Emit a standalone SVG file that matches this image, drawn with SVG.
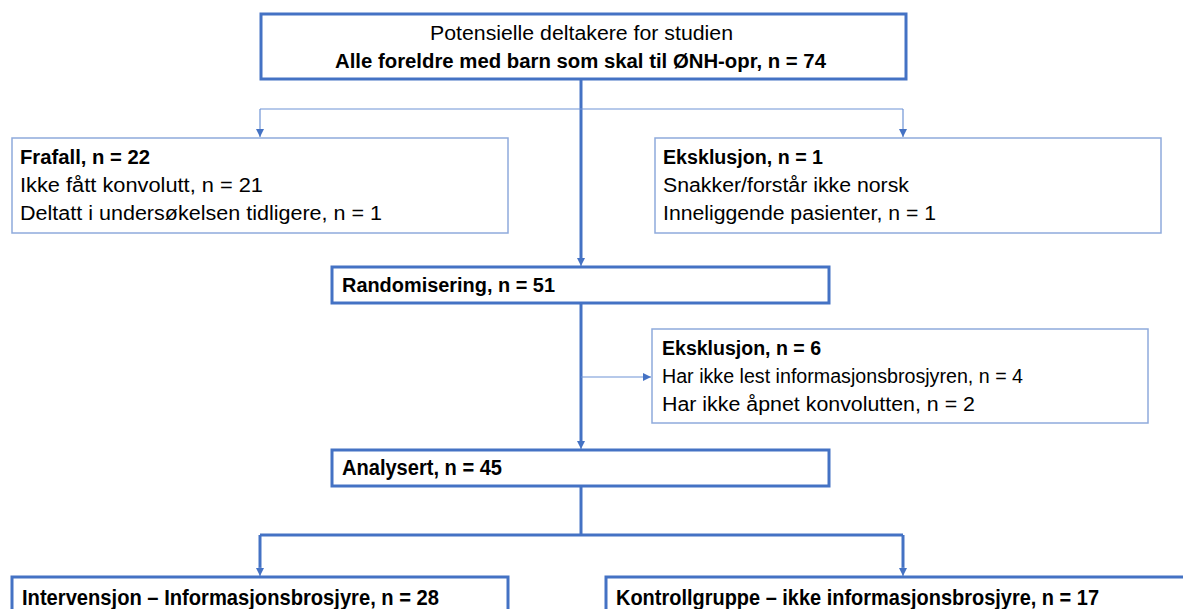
<svg xmlns="http://www.w3.org/2000/svg" width="1183" height="609" viewBox="0 0 1183 609">
<defs>
<style>
.thick{fill:#fff;stroke:#4472C4;stroke-width:3}
.thin{fill:#fff;stroke:#8FAADC;stroke-width:1.5}
.t{font-family:"Liberation Sans",Arial,sans-serif;font-size:20px;fill:#000}
.b{font-weight:bold}
.big{font-size:22px}
.cT{fill:none;stroke:#4472C4;stroke-width:3}
.cS{fill:none;stroke:#6F94D6;stroke-width:1.2}
</style>
<marker id="ah" markerWidth="10" markerHeight="10" refX="8" refY="5" orient="auto" markerUnits="userSpaceOnUse">
<path d="M0,1 L8,5 L0,9 Z" fill="#4472C4"/>
</marker>
</defs>
<rect width="1183" height="609" fill="#fff"/>
<g id="connectors">
<path class="cT" d="M581,79 V260"/>
<path class="cS" d="M581,258 V266" marker-end="url(#ah)"/>
<path class="cS" d="M260,109 H903"/>
<path class="cS" d="M260,109 V137" marker-end="url(#ah)"/>
<path class="cS" d="M903,109 V137" marker-end="url(#ah)"/>
<path class="cT" d="M581,303 V443"/>
<path class="cS" d="M581,441 V449" marker-end="url(#ah)"/>
<path class="cS" d="M581,377 H651" marker-end="url(#ah)"/>
<path class="cT" d="M581,486 V535"/>
<path class="cT" d="M260,535 H903"/>
<path class="cT" d="M260,535 V569"/>
<path class="cT" d="M903,535 V569"/>
<path class="cS" d="M260,567 V576" marker-end="url(#ah)"/>
<path class="cS" d="M903,567 V576" marker-end="url(#ah)"/>
</g>
<g id="n_top">
<rect class="thick" x="261" y="14" width="645" height="65"/>
<text class="t" x="430" y="40" textLength="303" lengthAdjust="spacingAndGlyphs">Potensielle deltakere for studien</text>
<text class="t b" x="335" y="68" textLength="491" lengthAdjust="spacingAndGlyphs">Alle foreldre med barn som skal til ØNH-opr, n = 74</text>
</g>
<g id="n_frafall">
<rect class="thin" x="12" y="138" width="496" height="95"/>
<text class="t b" x="20" y="164" textLength="130" lengthAdjust="spacingAndGlyphs">Frafall, n = 22</text>
<text class="t" x="20" y="192" textLength="243" lengthAdjust="spacingAndGlyphs">Ikke fått konvolutt, n = 21</text>
<text class="t" x="20" y="220" textLength="362" lengthAdjust="spacingAndGlyphs">Deltatt i undersøkelsen tidligere, n = 1</text>
</g>
<g id="n_eks1">
<rect class="thin" x="655" y="138" width="506" height="95"/>
<text class="t b" x="663" y="164" textLength="160" lengthAdjust="spacingAndGlyphs">Eksklusjon, n = 1</text>
<text class="t" x="663" y="192" textLength="246" lengthAdjust="spacingAndGlyphs">Snakker/forstår ikke norsk</text>
<text class="t" x="663" y="220" textLength="273" lengthAdjust="spacingAndGlyphs">Inneliggende pasienter, n = 1</text>
</g>
<g id="n_rand">
<rect class="thick" x="332" y="267" width="497" height="36"/>
<text class="t b" x="342" y="292" textLength="213" lengthAdjust="spacingAndGlyphs">Randomisering, n = 51</text>
</g>
<g id="n_eks6">
<rect class="thin" x="652" y="329" width="496" height="94"/>
<text class="t b" x="662" y="355" textLength="159" lengthAdjust="spacingAndGlyphs">Eksklusjon, n = 6</text>
<text class="t" x="662" y="383" textLength="361" lengthAdjust="spacingAndGlyphs">Har ikke lest informasjonsbrosjyren, n = 4</text>
<text class="t" x="662" y="411" textLength="313" lengthAdjust="spacingAndGlyphs">Har ikke åpnet konvolutten, n = 2</text>
</g>
<g id="n_anal">
<rect class="thick" x="332" y="450" width="497" height="36"/>
<text class="t b big" x="342" y="475" textLength="160" lengthAdjust="spacingAndGlyphs">Analysert, n = 45</text>
</g>
<g id="n_int">
<rect class="thick" x="12" y="577" width="496" height="40"/>
<text class="t b big" x="22" y="605" textLength="417" lengthAdjust="spacingAndGlyphs">Intervensjon – Informasjonsbrosjyre, n = 28</text>
</g>
<g id="n_kon">
<rect class="thick" x="606" y="577" width="590" height="40"/>
<text class="t b big" x="616" y="605" textLength="483" lengthAdjust="spacingAndGlyphs">Kontrollgruppe – ikke informasjonsbrosjyre, n = 17</text>
</g>
</svg>
